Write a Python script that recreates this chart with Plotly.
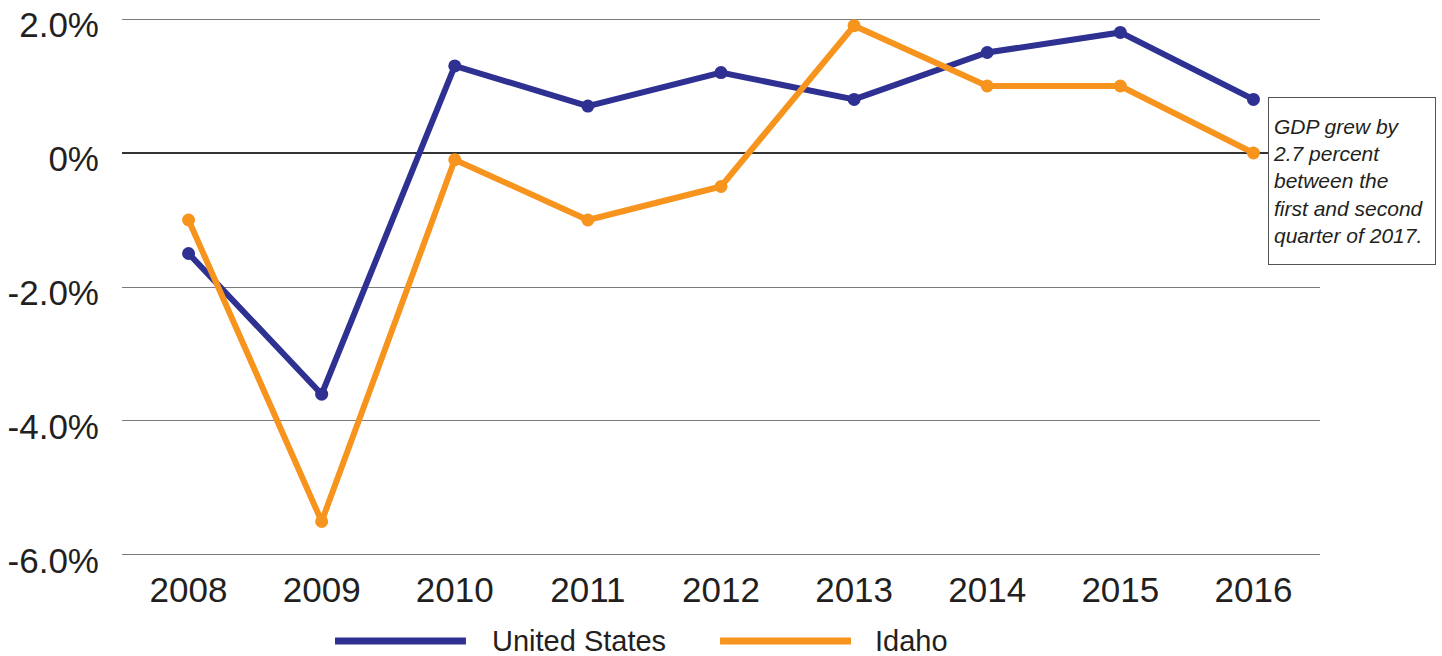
import plotly.graph_objects as go

years = [2008, 2009, 2010, 2011, 2012, 2013, 2014, 2015, 2016]
us_growth = [-1.5, -3.6, 1.3, 0.7, 1.2, 0.8, 1.5, 1.8, 0.8]
idaho_growth = [-1.0, -5.5, -0.1, -1.0, -0.5, 1.9, 1.0, 1.0, 0.0]
y_tickvals = [-6, -4, -2, 0, 2]
y_ticktext = ["-6.0%", "-4.0%", "-2.0%", "0%", "2.0%"]
series_names = ["United States", "Idaho"]
note_text = "GDP grew by<br>2.7 percent<br>between the<br>first and second<br>quarter of 2017."

BLUE = "#2e3192"
ORANGE = "#f7941d"
TXT = "#231f20"
FONT = "Liberation Sans, Arial, sans-serif"

fig = go.Figure()
fig.add_trace(go.Scatter(x=years, y=us_growth, mode="lines+markers", name=series_names[0],
                         line=dict(color=BLUE, width=6), marker=dict(color=BLUE, size=13),
                         cliponaxis=False))
fig.add_trace(go.Scatter(x=years, y=idaho_growth, mode="lines+markers", name=series_names[1],
                         line=dict(color=ORANGE, width=6), marker=dict(color=ORANGE, size=13),
                         cliponaxis=False))

# plot area: 2% at y=19px, -6% at y=555px (67 px per unit); range padded so edge gridlines draw
fig.update_layout(
    width=1442, height=656,
    margin=dict(l=122, r=122, t=15, b=97, pad=0, autoexpand=False),
    paper_bgcolor="white", plot_bgcolor="white",
    showlegend=False,
    font=dict(family=FONT, color=TXT),
    xaxis=dict(range=[2007.5, 2016.5], tickvals=years, ticktext=[str(y) for y in years],
               showgrid=False, zeroline=False, showline=False, ticks="", automargin=False,
               tickfont=dict(size=35, color=TXT), ticklabelstandoff=7),
    yaxis=dict(range=[-6.06, 2.06], tickvals=y_tickvals, ticktext=y_ticktext,
               showgrid=True, gridcolor="#7a7a7a", gridwidth=1.2,
               zeroline=True, zerolinecolor="#333333", zerolinewidth=2,
               showline=False, ticks="", ticklabeloverflow="allow", automargin=False,
               ticklabelshift=6,
               tickfont=dict(size=35, color=TXT), ticklabelstandoff=22),
)

# note box
fig.add_annotation(xref="paper", yref="paper", x=0.9566, y=0.8493, xanchor="left", yanchor="top",
                   text="<i>" + note_text + "</i>", showarrow=False, align="left",
                   width=158, height=158, borderpad=4, borderwidth=1, bordercolor="#555555",
                   bgcolor="white", font=dict(size=21, color=TXT, family=FONT))

# legend (manual, long line samples)
LEG_Y = -0.1507
for (x0, x1, xt, col, name) in [(0.1778, 0.2871, 0.3072, BLUE, series_names[0]),
                                (0.4992, 0.6085, 0.6269, ORANGE, series_names[1])]:
    fig.add_shape(type="line", xref="paper", yref="paper", x0=x0, x1=x1, y0=LEG_Y, y1=LEG_Y,
                  line=dict(color=col, width=7))
    fig.add_annotation(xref="paper", yref="paper", x=xt, y=LEG_Y, xanchor="left", yanchor="middle",
                       text=name, showarrow=False, font=dict(size=29, color=TXT, family=FONT))

fig.write_html("out.html", config={"displayModeBar": False})

with open("out.html", "r", encoding="utf-8") as f:
    html = f.read()
html = html.replace("<body>", '<body style="margin:0;padding:0;overflow:hidden">', 1)
with open("out.html", "w", encoding="utf-8") as f:
    f.write(html)
